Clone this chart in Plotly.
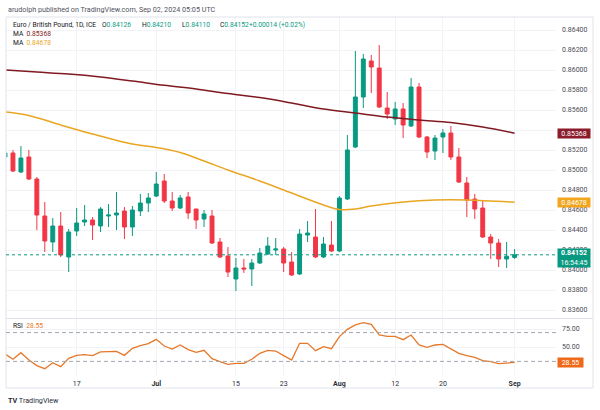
import pandas as pd
import plotly.graph_objects as go

# ---------------- data ----------------
dates = [d.strftime("%Y-%m-%d") for d in pd.bdate_range("2024-06-04", "2024-09-02")]

opens = [0.8513, 0.8517, 0.8498, 0.8513, 0.8491, 0.8454, 0.8428, 0.8444, 0.8413, 0.8439,
         0.8448, 0.8450, 0.8444, 0.8454, 0.8455, 0.8459, 0.8443, 0.8459, 0.8467, 0.8474,
         0.8489, 0.8469, 0.8462, 0.8473, 0.8461, 0.8451, 0.8454, 0.8428, 0.8414, 0.8391,
         0.8402, 0.8401, 0.8407, 0.8416, 0.8420, 0.8421, 0.8408, 0.8396, 0.8435, 0.8433,
         0.8413, 0.8425, 0.8419, 0.8471, 0.8523, 0.8573, 0.8609, 0.8602, 0.8562, 0.8551,
         0.8561, 0.8544, 0.8583, 0.8533, 0.8519, 0.8533, 0.8537, 0.8513, 0.8487, 0.8471,
         0.8462, 0.8433, 0.8427, 0.8411, 0.84126]
highs = [0.8518, 0.8520, 0.8524, 0.8520, 0.8493, 0.8468, 0.8452, 0.8458, 0.8441, 0.8462,
         0.8465, 0.8453, 0.8463, 0.8466, 0.8478, 0.8463, 0.8464, 0.8476, 0.8477, 0.8498,
         0.8496, 0.8478, 0.8475, 0.8478, 0.8461, 0.8460, 0.8460, 0.8432, 0.8423, 0.8412,
         0.8411, 0.8411, 0.8422, 0.8433, 0.8432, 0.8423, 0.8418, 0.8441, 0.8449, 0.8461,
         0.8433, 0.8449, 0.8474, 0.8535, 0.8619, 0.8616, 0.8615, 0.8625, 0.8578, 0.8568,
         0.8567, 0.8592, 0.8587, 0.8534, 0.8535, 0.8541, 0.8544, 0.8522, 0.8493, 0.8476,
         0.8469, 0.8436, 0.8431, 0.8428, 0.84210]
lows = [0.8512, 0.8498, 0.8497, 0.8490, 0.8440, 0.8418, 0.8418, 0.8413, 0.8398, 0.8434,
        0.8444, 0.8430, 0.8438, 0.8443, 0.8440, 0.8431, 0.8434, 0.8454, 0.8458, 0.8473,
        0.8467, 0.8459, 0.8461, 0.8451, 0.8441, 0.8443, 0.8426, 0.8412, 0.8393, 0.8379,
        0.8397, 0.8384, 0.8406, 0.8415, 0.8415, 0.8398, 0.8394, 0.8395, 0.8428, 0.8412,
        0.8412, 0.8418, 0.8418, 0.8470, 0.8522, 0.8562, 0.8577, 0.8562, 0.8551, 0.8545,
        0.8532, 0.8543, 0.8532, 0.8512, 0.8510, 0.8517, 0.8510, 0.8487, 0.8453, 0.8451,
        0.8432, 0.8411, 0.8403, 0.8402, 0.84110]
closes = [0.8517, 0.8499, 0.8512, 0.8491, 0.8455, 0.8429, 0.8444, 0.8415, 0.8438, 0.8447,
          0.8450, 0.8445, 0.8461, 0.8455, 0.8457, 0.8443, 0.8460, 0.8467, 0.8472, 0.8486,
          0.8469, 0.8462, 0.8472, 0.8457, 0.8450, 0.8456, 0.8427, 0.8413, 0.8398, 0.8402,
          0.8401, 0.8407, 0.8417, 0.8424, 0.8421, 0.8407, 0.8395, 0.8436, 0.8437, 0.8413,
          0.8426, 0.8419, 0.8472, 0.8520, 0.8573, 0.8611, 0.8603, 0.8563, 0.8556, 0.8561,
          0.8545, 0.8583, 0.8533, 0.8518, 0.8532, 0.8537, 0.8513, 0.8488, 0.8470, 0.8461,
          0.8433, 0.8427, 0.8411, 0.84138, 0.84152]

# moving averages (read at selected bars)
ma_slow_idx = [0, 4, 8, 12, 16, 20, 24, 28, 32, 36, 40, 44, 48, 52, 56, 60, 64]
ma_slow_val = [0.8600, 0.8598, 0.8596, 0.8593, 0.8589, 0.85847, 0.8581, 0.85765, 0.85725,
               0.8567, 0.8561, 0.8557, 0.8553, 0.8550, 0.85475, 0.8543, 0.85368]
ma_fast_idx = [0, 3, 7, 11, 16, 19, 22, 25, 28, 32, 36, 40, 42, 44, 46, 50, 54, 58, 64]
ma_fast_val = [0.8558, 0.85545, 0.8545, 0.8536, 0.8526, 0.85225, 0.85175, 0.8509, 0.8500,
               0.8489, 0.8477, 0.8465, 0.84605, 0.8461, 0.8464, 0.8468, 0.8470, 0.8470, 0.84678]

rsi = [40.3, 32.9, 42.1, 31.9, 24.1, 19.9, 28.2, 22.7, 34.3, 38.4,
       39.4, 38.0, 43.1, 43.1, 44.0, 38.4, 48.1, 51.9, 54.6, 60.6,
       51.4, 47.2, 52.8, 46.3, 42.6, 45.4, 33.8, 29.6, 25.9, 27.3,
       27.3, 32.9, 41.2, 45.4, 44.4, 38.0, 31.9, 55.1, 55.1, 44.9,
       50.4, 47.7, 64.4, 74.5, 80.6, 83.8, 81.5, 66.7, 64.8, 64.8,
       60.2, 66.7, 52.8, 49.5, 52.8, 53.7, 47.2, 41.2, 38.0, 35.6,
       31.0, 29.6, 26.9, 28.2, 28.55]

tick_dates = ["2024-06-17", "2024-07-01", "2024-07-15", "2024-07-23",
              "2024-08-01", "2024-08-12", "2024-08-20", "2024-09-02"]
tick_text = ["17", "<b>Jul</b>", "15", "23", "<b>Aug</b>", "12", "20", "<b>Sep</b>"]
price_ticks = [0.836, 0.838, 0.840, 0.842, 0.844, 0.846, 0.848, 0.850,
               0.852, 0.854, 0.856, 0.858, 0.860, 0.862, 0.864]
price_hidden = [0.854]  # label sits under the MA badge

# ---------------- styles ----------------
W, H = 600, 410
GREEN, RED = "#089981", "#F23645"
MAROON, GOLD = "#801922", "#E9A623"
RSI_C = "#E5782A"
GRID = "#F2F3F6"
FONT = "Roboto"
TXT = "#131722"

def px(x):
    return x / W

def py(y):
    return 1 - y / H

fig = go.Figure()

fig.add_trace(go.Candlestick(
    x=dates, open=opens, high=highs, low=lows, close=closes,
    increasing=dict(line=dict(color=GREEN, width=1), fillcolor=GREEN),
    decreasing=dict(line=dict(color=RED, width=1), fillcolor=RED),
    whiskerwidth=0, hoverinfo="skip", showlegend=False, xaxis="x", yaxis="y"))

fig.add_trace(go.Scatter(
    x=[dates[i] for i in ma_slow_idx], y=ma_slow_val, mode="lines",
    line=dict(color=MAROON, width=1.5, shape="spline"), hoverinfo="skip",
    showlegend=False, xaxis="x", yaxis="y"))
fig.add_trace(go.Scatter(
    x=[dates[i] for i in ma_fast_idx], y=ma_fast_val, mode="lines",
    line=dict(color=GOLD, width=1.5, shape="spline"), hoverinfo="skip",
    showlegend=False, xaxis="x", yaxis="y"))

fig.add_trace(go.Scatter(
    x=dates, y=rsi, mode="lines", line=dict(color=RSI_C, width=1.3),
    hoverinfo="skip", showlegend=False, xaxis="x2", yaxis="y2"))

price_text = ["" if v in price_hidden else f"{v:.5f}" for v in price_ticks]

xrange = [0.126, 69.2]
fig.update_layout(
    width=W, height=H, margin=dict(l=0, r=0, t=0, b=0),
    paper_bgcolor="white", plot_bgcolor="white",
    font=dict(family=FONT, size=7, color=TXT),
    xaxis=dict(type="category", domain=[px(6), px(556)], range=xrange,
               anchor="y", showticklabels=False, tickvals=tick_dates,
               showgrid=True, gridcolor=GRID, gridwidth=1, zeroline=False,
               rangeslider=dict(visible=False), showline=False, ticks=""),
    yaxis=dict(domain=[py(318), py(17)], range=[0.8352, 0.8653], side="right",
               anchor="x", tickvals=price_ticks, ticktext=price_text,
               showgrid=True, gridcolor=GRID, zeroline=False, ticks="",
               ticklabelstandoff=5, tickfont=dict(size=7, color="#4A4D57")),
    xaxis2=dict(type="category", domain=[px(6), px(556)], range=xrange,
                anchor="y2", matches="x", tickvals=tick_dates, ticktext=tick_text,
                showgrid=True, gridcolor=GRID, zeroline=False, ticks="",
                showline=False, tickfont=dict(size=7, color="#2A2E39"),
                ticklabelstandoff=3),
    yaxis2=dict(domain=[py(375), py(319)], range=[11.1, 88.9], side="right",
                anchor="x2", tickvals=[50, 75], tickformat=".2f",
                showgrid=True, gridcolor=GRID, zeroline=False, ticks="",
                ticklabelstandoff=5, tickfont=dict(size=7, color="#4A4D57")),
    hovermode=False,
)

shapes = []
shapes.append(dict(type="rect", xref="paper", yref="paper", x0=px(6), x1=px(593),
                   y0=py(388), y1=py(17), line=dict(color="#E0E3EB", width=1)))
shapes.append(dict(type="line", xref="paper", yref="paper", x0=px(6), x1=px(593),
                   y0=py(318.5), y1=py(318.5), line=dict(color="#E0E3EB", width=1)))
shapes.append(dict(type="line", xref="paper", yref="y", x0=px(6), x1=px(556),
                   y0=closes[-1], y1=closes[-1], line=dict(color=GREEN, width=1, dash="dot")))
for lvl in (70, 30):
    shapes.append(dict(type="line", xref="paper", yref="y2", x0=px(6), x1=px(556),
                       y0=lvl, y1=lvl, line=dict(color="#A3A6AF", width=1, dash="4px,3px")))
fig.update_layout(shapes=shapes)

ann = []

def text_at(x, y, text, size=7, color=TXT):
    return dict(xref="paper", yref="paper", x=px(x), y=py(y), xanchor="left",
                yanchor="middle", text=text, showarrow=False,
                font=dict(size=size, color=color))

ann.append(text_at(6, 9, "arudolph published on TradingView.com, Sep 02, 2024 05:05 UTC",
                   size=7.2, color="#50535E"))

HS = 6.7
g = lambda s: f"<span style='color:{GREEN}'>{s}</span>"
chg = closes[-1] - closes[-2]
ann.append(text_at(10.7, 24.5, "Euro / British Pound, 1D, ICE", size=HS))
ann.append(text_at(100, 24.5, "O" + g(f"{opens[-1]:.5f}"), size=HS))
ann.append(text_at(140, 24.5, "H" + g(f"{highs[-1]:.5f}"), size=HS))
ann.append(text_at(180, 24.5, "L" + g(f"{lows[-1]:.5f}"), size=HS))
ann.append(text_at(218, 24.5, "C" + g(f"{closes[-1]:.5f}"), size=HS))
ann.append(text_at(247, 24.5, g(f"+{chg:.5f} (+{chg / closes[-2] * 100:.2f}%)"), size=HS))
ann.append(text_at(10.7, 33.7, f"MA  <span style='color:{MAROON}'>{ma_slow_val[-1]:.5f}</span>", size=HS))
ann.append(text_at(10.7, 43, f"MA  <span style='color:{GOLD}'>{ma_fast_val[-1]:.5f}</span>", size=HS))
ann.append(text_at(10.7, 326, f"RSI  <span style='color:{RSI_C}'>{rsi[-1]:.2f}</span>", size=HS))

def badge(y, yref, text, color, h=9, w=32):
    return dict(xref="paper", yref=yref, x=px(557), y=y, xanchor="left", yanchor="middle",
                text=text, showarrow=False, bgcolor=color, width=w, height=h,
                borderpad=0, align="center", font=dict(size=7, color="white"))

ann.append(badge(ma_slow_val[-1], "y", f"{ma_slow_val[-1]:.5f}", "#8A1C2B"))
ann.append(badge(ma_fast_val[-1], "y", f"{ma_fast_val[-1]:.5f}", "#F2A51E"))
ann.append(badge(0.8412, "y", f"<b>{closes[-1]:.5f}</b><br>16:54:45", GREEN, h=18))
ann.append(badge(rsi[-1], "y2", f"{rsi[-1]:.2f}", "#EE6A1A", w=25))

ann.append(text_at(6, 400, "<b>TV</b> TradingView", size=7.2, color="#2A2E39"))

fig.update_layout(annotations=ann)

fig.write_html("out.html", config={"displayModeBar": False},
               post_script="document.body.style.margin='0';document.body.style.overflow='hidden';")
